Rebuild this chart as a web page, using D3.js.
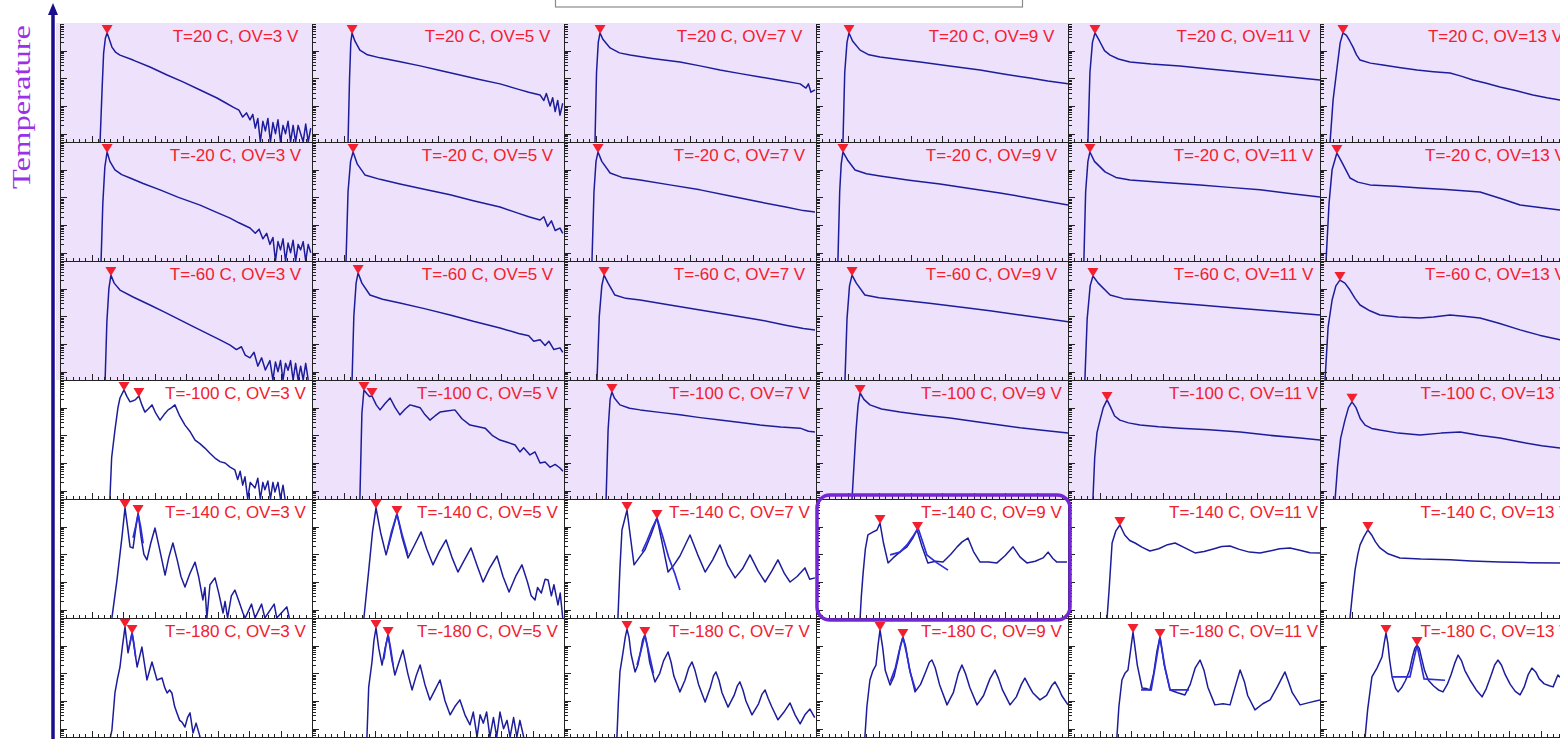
<!DOCTYPE html>
<html><head><meta charset="utf-8">
<script src="https://cdn.jsdelivr.net/npm/d3@7"></script>
<style>html,body{margin:0;padding:0;background:#fff;overflow:hidden}</style>
</head><body>
<svg id="chart" width="1560" height="739"></svg>
<script>
// ---------- DATA (x: position across panel range 0-100, y: log10 counts per bin) ----------
const temperatures = [20, -20, -60, -100, -140, -180];
const overVoltages = [3, 5, 7, 9, 11, 13];
const axisTitle = "Temperature";
// panels with shaded (lavender) background, per temperature row
const shadedT20 = [1,1,1,1,1,1];
const shadedTm20 = [1,1,1,1,1,1];
const shadedTm60 = [1,1,1,1,1,1];
const shadedTm100 = [0,1,1,1,1,1];
const shadedTm140 = [0,0,0,0,0,0];
const shadedTm180 = [0,0,0,0,0,0];

const spectraT20 = [
 [[15.9,-0.3],[16.7,1.6],[17.3,2.9],[18,3.45],[18.7,3.64],[19.6,3.4],[20.6,3.13],[22,2.95],[23.8,2.84],[29,2.66],[35.7,2.41],[42.5,2.12],[48.8,1.87],[55.6,1.58],[62.3,1.29],[66,1.1],[68.7,0.96],[71,0.85],[72.5,0.6],[74,0.75],[75.4,0.5],[76.5,0.7],[77.5,0.2],[78.5,0.55],[79.5,-0.3],[80.5,0.45],[81.5,0.1],[82.5,0.55],[83.5,-0.3],[84.5,0.4],[85.5,0],[86.5,0.5],[87.5,-0.3],[88.5,0.3],[89.5,0],[90.5,0.45],[91.5,-0.3],[92.5,0.3],[93.5,-0.3],[94.5,0.3],[95.5,0],[96.5,-0.3],[97.5,0.35],[98.5,-0.3],[99.5,0.2]],
 [[14.3,-0.3],[14.9,2.0],[15.4,3.3],[15.9,3.64],[17,3.35],[19,3.02],[22,2.85],[27,2.74],[35,2.6],[42.9,2.45],[50,2.3],[58.7,2.12],[66,1.97],[74.6,1.8],[82,1.6],[86,1.5],[90.5,1.4],[92,1.2],[93,1.45],[94.5,1.0],[95.5,1.3],[96.5,0.8],[97.5,1.2],[98.4,0.67],[99.5,1.1]],
 [[12.3,-0.3],[12.9,2.2],[13.6,3.3],[14.3,3.64],[15.5,3.4],[18.3,3.1],[22,2.92],[26.2,2.84],[35,2.72],[46,2.59],[54,2.45],[61.9,2.3],[70,2.17],[77.8,2.05],[86,1.92],[93.7,1.8],[96,1.65],[97,1.8],[98,1.5],[99.6,1.58]],
 [[10.7,-0.3],[11.4,2.2],[12.3,3.3],[13.1,3.64],[14.5,3.35],[17.5,3.02],[21,2.85],[25.4,2.77],[33,2.68],[41.3,2.59],[53,2.45],[65.1,2.3],[75,2.15],[84.9,2.01],[92,1.9],[100,1.8]],
 [[7.9,-0.3],[8.7,2.2],[9.7,3.3],[10.7,3.64],[12.5,3.35],[14.5,3.0],[16.7,2.84],[20,2.7],[24.6,2.59],[33,2.52],[44.4,2.45],[56,2.34],[68.3,2.23],[80,2.12],[92,2.01],[100,1.94]],
 [[4,-0.3],[5.2,1.22],[6.8,2.41],[8,3.28],[9.1,3.64],[10.5,3.55],[11.8,3.35],[13.1,3.13],[14.5,2.85],[15.9,2.66],[20,2.55],[25,2.48],[32,2.38],[38.5,2.3],[45,2.24],[51.6,2.19],[56,2.08],[60.7,1.94],[66,1.82],[71.4,1.69],[78,1.55],[84.5,1.4],[90,1.3],[95.2,1.22],[99.5,1.15]]
];
const spectraTm20 = [
 [[16.3,-0.3],[17,1.8],[17.8,3.1],[18.7,3.64],[19.8,3.3],[21.8,2.99],[24.5,2.82],[27.8,2.7],[33,2.5],[39.7,2.27],[47,2.0],[55.6,1.72],[61,1.5],[67.5,1.25],[71,1.08],[75.4,0.89],[77.5,0.7],[79,0.85],[80.5,0.5],[82,0.7],[83.3,0.3],[84.5,0.55],[85.5,-0.3],[86.5,0.4],[87.5,0.1],[88.5,0.5],[89.5,-0.3],[90.5,0.35],[91.5,0],[92.5,0.45],[93.5,-0.3],[94.5,0.3],[95.5,0.1],[96.5,0.4],[97.5,-0.3],[98.5,0.3],[99.5,0]],
 [[13.5,-0.3],[14.3,2.2],[15.3,3.3],[16.3,3.64],[18,3.2],[21,2.81],[27,2.65],[34.9,2.48],[45,2.28],[54.8,2.09],[64,1.88],[74.6,1.65],[82,1.42],[86,1.3],[90.5,1.18],[92,1.3],[93.5,0.95],[95,1.15],[96.5,0.8],[98.4,0.89],[99.5,0.7]],
 [[11.1,-0.3],[11.9,2.2],[12.7,3.3],[13.5,3.64],[15,3.3],[18.3,2.88],[23,2.72],[30.2,2.63],[42,2.45],[54,2.27],[66,2.05],[77.8,1.83],[88,1.65],[95,1.52],[99.6,1.47]],
 [[8.7,-0.3],[9.4,2.2],[10,3.2],[10.7,3.64],[12.5,3.35],[15.5,2.99],[20,2.85],[25.4,2.77],[37,2.62],[49.2,2.48],[61,2.32],[73,2.16],[86,1.95],[100,1.72]],
 [[6.3,-0.3],[7,2.2],[7.9,3.3],[8.7,3.64],[10.5,3.3],[14.7,2.92],[19,2.72],[24.6,2.63],[38,2.54],[52.4,2.45],[64,2.36],[76.2,2.27],[88,2.14],[100,2.01]],
 [[2.4,-0.3],[3.6,1.8],[4.8,3.0],[6.7,3.6],[8.5,3.3],[11.9,2.7],[15,2.55],[19.8,2.45],[30,2.4],[39.7,2.34],[50,2.28],[63.5,2.19],[72,1.95],[79.4,1.72],[88,1.62],[95.2,1.54],[99.5,1.5]]
];
const spectraTm60 = [
 [[17.9,-0.3],[18.6,1.8],[19.4,3.0],[20.2,3.49],[21.5,3.2],[23.8,2.95],[29,2.7],[35.7,2.41],[41.5,2.15],[47.6,1.87],[53.5,1.6],[59.5,1.33],[63.5,1.15],[67.5,0.96],[70,0.8],[72,0.9],[73.5,0.6],[75.4,0.5],[77,0.7],[78.5,0.2],[80,0.5],[81.5,0.06],[83.3,0.4],[84.5,-0.3],[85.5,0.35],[86.5,0],[87.5,0.4],[88.5,-0.3],[89.5,0.3],[90.5,0.05],[91.5,0.4],[92.5,-0.3],[93.5,0.3],[94.5,-0.3],[95.5,0.2],[96.5,-0.3],[97.5,0.3],[98.5,-0.3]],
 [[15.9,-0.3],[16.6,2.0],[17.5,3.2],[18.3,3.57],[19.8,3.2],[23,2.77],[28,2.62],[34.9,2.48],[45,2.27],[54.8,2.05],[64,1.82],[74.6,1.58],[82,1.38],[86,1.3],[88,1.1],[90.5,1.15],[92.5,0.95],[94,1.1],[96,0.8],[98.4,0.86],[99.5,0.7]],
 [[13.1,-0.3],[14,2.0],[15,3.1],[15.9,3.49],[17.5,3.2],[20.2,2.77],[24.5,2.65],[30.2,2.59],[42,2.41],[54,2.23],[66,2.05],[77.8,1.87],[88,1.68],[95,1.56],[99.6,1.51]],
 [[11.5,-0.3],[12.3,1.9],[13.3,3.1],[14.3,3.49],[16,3.2],[19.4,2.77],[25,2.67],[33.3,2.59],[45,2.47],[57.1,2.34],[69,2.2],[81,2.05],[91,1.92],[100,1.8]],
 [[6.7,-0.3],[7.6,1.9],[8.8,3.1],[9.9,3.46],[12,3.2],[16.7,2.77],[22,2.64],[28.6,2.59],[40,2.5],[52.4,2.41],[64,2.32],[76.2,2.23],[88,2.14],[100,2.05]],
 [[2,-0.3],[3.2,1.6],[4.8,2.59],[6.3,3.1],[7.9,3.31],[9.9,3.2],[11.9,2.95],[13.9,2.65],[15.9,2.41],[19.8,2.2],[23.8,2.05],[31,1.98],[39.7,1.94],[45,1.98],[51.6,2.05],[57,2.0],[63.5,1.94],[71,1.75],[79.4,1.51],[87,1.32],[95.2,1.15],[99.5,1.1]]
];
const spectraTm100 = [
 [[19.8,-0.3],[20.5,1.2],[21.8,2.19],[23,3.0],[23.8,3.35],[25.4,3.64],[26.6,3.4],[27.8,3.21],[29,3.25],[29.8,3.28],[31.3,3.42],[32.5,3.1],[33.7,2.84],[35,2.95],[36.5,3.1],[38,2.8],[39.7,2.55],[41.3,2.75],[42.9,2.92],[44.3,3.0],[45.6,3.1],[47.5,2.7],[49.6,2.37],[51.5,2.15],[53.6,1.83],[55.5,1.7],[57.5,1.54],[59.5,1.35],[61.5,1.18],[63.5,1.05],[65.5,1.0],[67.5,0.85],[69.4,0.75],[70.5,0.4],[71.5,0.7],[72.5,0.2],[73.4,0.5],[74.5,-0.3],[75.5,0.3],[77.4,0.1],[78.5,0.45],[79.5,-0.3],[80.5,0.3],[81.3,0.03],[82.5,0.35],[83.5,-0.3],[84.5,0.3],[85.3,-0.05],[86.5,0.3],[87.5,-0.3],[88.5,0.2],[89.3,-0.3]],
 [[19,-0.3],[19.8,2.8],[20.6,3.64],[21.8,3.5],[22.8,3.4],[23.8,3.42],[25.5,3.1],[27,2.92],[29,3.15],[31,3.35],[33,3.0],[34.9,2.74],[37,2.95],[38.9,3.1],[40.9,3.05],[42.9,3.0],[44.8,2.75],[46.8,2.55],[48.8,2.7],[50.8,2.84],[53.5,2.88],[56.7,2.92],[59.5,2.6],[62.7,2.37],[65.5,2.32],[68.7,2.26],[71.5,2.0],[74.6,1.83],[77.5,1.75],[80.6,1.65],[82.5,1.4],[84,1.55],[86.5,1.29],[88.5,1.4],[90.5,1.0],[92.5,1.04],[94.5,0.85],[96.5,0.95],[98.4,0.82],[99.6,0.7]],
 [[16.7,-0.3],[17.5,2.2],[18.3,3.3],[19,3.57],[20,3.35],[22.2,3.1],[26,2.98],[30.2,2.92],[38,2.83],[46,2.74],[54,2.64],[61.9,2.55],[70,2.46],[77.8,2.37],[86,2.3],[93.7,2.26],[97,2.15],[99.6,2.12]],
 [[14.3,-0.3],[15,0.8],[15.9,2.19],[16.7,3.1],[17.5,3.53],[19,3.3],[21.4,3.1],[26,2.95],[33.3,2.84],[43,2.73],[53.2,2.63],[63,2.5],[73,2.37],[81,2.27],[88.9,2.19],[100,2.08]],
 [[9.9,-0.3],[10.6,1.2],[11.5,2.1],[12.7,2.55],[14,3.0],[15.5,3.28],[17,3.0],[18.5,2.7],[20.6,2.55],[24,2.45],[28.6,2.37],[36,2.31],[44.4,2.26],[56,2.2],[68.3,2.12],[80,2.0],[92.1,1.9],[100,1.83]],
 [[6,-0.3],[7,0.9],[8.2,1.9],[9.9,2.55],[11.3,3.0],[12.7,3.21],[14.3,3.0],[16,2.6],[17.9,2.37],[20.5,2.25],[23.8,2.19],[31,2.08],[39.7,2.01],[48,2.08],[55.6,2.12],[63,2.0],[71.4,1.9],[80,1.75],[88,1.62],[95.2,1.54],[99.5,1.5]]
];
const spectraTm140 = [
 [[20.6,-0.3],[22.6,1.07],[24.6,2.63],[25.8,3.68],[26.8,3.0],[27.8,2.27],[29,2.23],[30,2.9],[31,3.49],[32.2,2.6],[33.3,2.0],[34.5,1.8],[36,2.4],[37.7,2.95],[39.5,2.2],[41.7,1.25],[43.2,1.9],[44.8,2.41],[46.5,1.8],[48,1.2],[49.6,0.82],[51.5,1.3],[53.6,1.72],[55,1.2],[56.7,0.35],[57.5,0.8],[58.3,-0.3],[59.5,0.9],[61.5,1.15],[63,0.6],[64.7,-0.12],[65.5,0.3],[66.5,-0.3],[68,0.5],[69.4,0.71],[71,0.3],[72.6,-0.12],[73.5,-0.3],[76,0.2],[77.4,-0.3],[80,0.2],[81.3,-0.3],[85,0.2],[86,-0.3],[90,0.1],[91,-0.3]],
 [[20.6,-0.3],[22.6,1.5],[24,2.8],[25.4,3.68],[27.2,2.8],[29.4,1.98],[31.5,2.7],[33.7,3.46],[35.8,2.6],[38.1,1.87],[40.5,2.3],[43.3,2.81],[45.5,2.2],[48,1.62],[50.5,2.1],[53.2,2.52],[55.5,1.9],[57.9,1.36],[60.5,1.8],[63.1,2.23],[65.5,1.6],[67.9,1.0],[70.5,1.5],[73.4,1.94],[75.8,1.2],[78.2,0.64],[80.8,1.2],[83.3,1.62],[85.5,1.0],[87,0.5],[88.5,0.35],[89.5,0.8],[91,0.6],[92.5,1.1],[93.7,1.07],[95,0.5],[96,0.9],[97.6,0.17],[98.5,0.6],[99.5,-0.3]],
 [[21.4,-0.3],[22.2,1.5],[23,2.88],[25,3.6],[26.4,2.6],[27.8,1.62],[30,1.9],[32.1,2.16],[34.5,2.7],[36.9,3.31],[39,2.4],[41.3,1.36],[43.5,1.6],[46,1.94],[50,2.7],[53,2.0],[56,1.36],[59,1.8],[61.9,2.34],[65,1.6],[67.9,1.15],[71,1.5],[73.8,1.98],[77,1.4],[79.8,1.0],[82.5,1.4],[84.9,1.8],[87.5,1.3],[89.7,1.0],[92.5,1.2],[95.6,1.51],[97.5,1.1],[99.6,1.15]],
 [[17.5,-0.3],[18,0.5],[18.7,1.33],[19.6,2.2],[20.6,2.7],[22.5,2.8],[24.2,2.88],[25.4,3.13],[26.8,2.4],[28.6,1.69],[30.6,1.87],[33.5,2.1],[36.1,2.27],[38.5,2.6],[40.1,2.88],[42,2.3],[44.4,1.69],[47.5,1.75],[50.4,1.72],[53.5,2.0],[56,2.27],[58,2.45],[60.3,2.59],[62.5,2.1],[65.1,1.72],[68.5,1.72],[71.8,1.69],[75,1.95],[78.2,2.27],[81,1.9],[83.7,1.69],[87,1.75],[90.1,1.87],[92.1,2.08],[94,1.85],[95.6,1.72],[99.6,1.72]],
 [[15.5,-0.3],[16.3,0.7],[17.5,2.41],[19,2.85],[20.6,3.06],[22.5,2.7],[24.5,2.5],[26.6,2.41],[29.5,2.25],[32.5,2.12],[36,2.2],[39.5,2.35],[42.5,2.41],[46,2.25],[50.4,2.05],[54,2.1],[58,2.2],[61,2.28],[64.3,2.3],[68,2.18],[72,2.08],[76.2,2.05],[80,2.12],[84,2.2],[88.1,2.23],[92,2.15],[96,2.06],[100,2.05]],
 [[11.9,-0.3],[12.9,0.6],[13.9,1.43],[15,2.0],[15.9,2.34],[17.5,2.65],[19,2.88],[20.5,2.7],[22,2.45],[23.8,2.23],[27,2.02],[31.7,1.87],[40,1.83],[51.6,1.8],[60,1.76],[71.4,1.72],[83,1.7],[95.2,1.69],[99.5,1.68]]
];
const spectraTm180 = [
 [[20,-0.3],[20.6,-0.05],[21.8,1.29],[22.8,1.8],[23.8,2.23],[24.8,3.0],[25.8,3.68],[27,2.74],[28.6,3.46],[30.6,2.23],[32.5,2.95],[34.5,1.76],[36.5,2.41],[38.5,1.76],[40.5,1.83],[41.5,1.5],[42.5,1.29],[43.5,1.4],[44.4,1.29],[45.5,0.8],[46.4,0.57],[47.5,0.3],[48.4,0.24],[49.6,0.06],[50.6,0.4],[51.6,0.57],[52.8,-0.16],[54,0.2],[55.6,-0.3]],
 [[21.8,-0.3],[22.5,1.5],[23.8,2.41],[24.6,3.2],[25.4,3.64],[26.5,2.9],[27.8,2.3],[29,2.9],[30.2,3.39],[31.5,2.6],[32.9,1.94],[34.5,2.4],[36.1,2.84],[38,2.0],[39.7,1.4],[41.3,1.9],[42.9,2.3],[44.8,1.6],[46.8,1.04],[48.8,1.4],[50.8,1.76],[52.8,1.0],[54.8,0.5],[56.7,0.8],[58.7,1.04],[60.7,0.5],[62.7,0.14],[64,0.6],[65.5,-0.3],[66.7,0.5],[68,0.2],[69.3,0.6],[70.6,-0.3],[72,0.4],[73.3,-0.3],[74.6,0.6],[76,0],[77.4,0.3],[78.6,-0.3],[80,0.4],[81.3,-0.3],[82.5,0.3],[84,-0.3]],
 [[21,-0.3],[21.6,1.0],[22.2,2.05],[23.5,2.8],[24.3,3.3],[25,3.6],[25.8,3.3],[26.6,2.7],[28.2,2.05],[29.3,2.3],[30.2,2.7],[31.2,3.2],[32.1,3.39],[33,3.0],[34,2.4],[36.1,1.69],[38,2.0],[39.5,2.45],[41.3,2.77],[42.5,2.4],[43.6,1.9],[46,1.33],[48,1.75],[49.5,2.2],[50.8,2.41],[52,2.1],[53.4,1.6],[56,0.96],[58.1,1.5],[59.3,1.9],[60.3,2.05],[61.5,1.75],[62.7,1.3],[65.1,0.78],[67.5,1.2],[68.8,1.55],[69.8,1.69],[71,1.4],[72.2,1.0],[74.6,0.5],[77.2,0.9],[78.6,1.25],[79.8,1.4],[81,1.1],[82.4,0.8],[84.9,0.32],[87.3,0.6],[89.7,0.93],[91.7,0.5],[93.7,0.17],[95.6,0.5],[97.6,0.71],[99.5,0.4]],
 [[19.4,-0.3],[20.2,0.8],[21.4,1.76],[22.6,2.1],[23.8,2.3],[24.6,3.0],[25.4,3.57],[26.5,2.9],[27.5,2.1],[29.4,1.58],[31,1.9],[32.5,2.5],[33.5,3.0],[34.5,3.31],[35.5,3.0],[37,2.2],[39.3,1.33],[41.5,1.6],[43.5,2.05],[45,2.4],[46,2.48],[47.3,2.2],[49,1.6],[52,0.86],[54.5,1.3],[56.5,2.0],[57.9,2.3],[59.3,2.0],[61,1.5],[63.9,0.86],[66.5,1.2],[69,1.8],[71,2.12],[72.5,1.8],[74,1.4],[77,0.86],[79.5,1.15],[81.5,1.6],[82.9,1.83],[84.5,1.55],[86,1.3],[88.9,1.04],[91.5,1.2],[93.5,1.55],[94.8,1.69],[96.3,1.45],[97.5,1.2],[100,0.86]],
 [[19.4,-0.3],[20.2,0.8],[21.4,1.76],[22.6,2.0],[23.8,2.12],[24.8,2.8],[25.8,3.49],[27.5,2.3],[29.4,1.47],[31,1.45],[32.5,1.4],[34,2.0],[35.3,2.8],[36.5,3.31],[38.2,2.3],[40.5,1.4],[43.5,1.3],[46.4,1.22],[48.5,1.6],[50.5,2.2],[52.4,2.48],[54,2.1],[55.5,1.5],[58.3,0.86],[61.5,0.9],[64.3,0.86],[66.3,1.5],[68.3,2.12],[70,1.7],[71.3,1.2],[74.2,0.68],[77.3,0.9],[80.2,1.04],[83,1.5],[86.1,2.05],[87.5,1.7],[89,1.3],[92.1,0.86],[96,0.95],[100,1.04]],
 [[17.9,-0.3],[18.9,0.68],[20.6,1.87],[22.6,2.19],[24.6,2.59],[25.5,3.1],[26.2,3.46],[26.9,3.1],[27.6,2.5],[28.6,1.87],[30,1.45],[31,1.33],[32.5,1.5],[34,1.75],[35.5,2.1],[36.7,2.6],[37.6,2.9],[38.5,3.02],[39.4,2.9],[40.3,2.55],[41.5,2.1],[43,1.75],[45,1.55],[47,1.4],[48.8,1.33],[50.5,1.6],[52,1.95],[53.4,2.35],[54.8,2.66],[56.2,2.45],[57.5,2.1],[59.5,1.76],[62,1.4],[64.3,1.15],[66,1.45],[67.8,1.9],[69.3,2.3],[70.6,2.48],[72,2.3],[73.5,1.95],[75.5,1.6],[77.5,1.35],[79.4,1.22],[81,1.5],[82.6,1.95],[84.1,2.19],[85.6,2.05],[87,1.8],[89,1.62],[91,1.55],[92.5,1.51],[94.4,1.94],[96,1.8],[97.5,1.65],[99.5,1.8]]
];

const peaksT20 = [[[18.7,3.64]],[[15.9,3.64]],[[14.3,3.64]],[[13.1,3.64]],[[10.7,3.64]],[[9.1,3.64]]];
const peaksTm20 = [[[18.7,3.64]],[[16.3,3.64]],[[13.5,3.64]],[[10.7,3.64]],[[8.7,3.64]],[[6.7,3.6]]];
const peaksTm60 = [[[20.2,3.49]],[[18.3,3.57]],[[15.9,3.49]],[[14.3,3.49]],[[9.9,3.46]],[[7.9,3.31]]];
const peaksTm100 = [[[25.4,3.64],[31.3,3.42]],[[20.6,3.64],[23.8,3.42]],[[19,3.57]],[[17.5,3.53]],[[15.5,3.28]],[[12.7,3.21]]];
const peaksTm140 = [[[25.8,3.68],[31,3.49]],[[25.4,3.68],[33.7,3.46]],[[25,3.6],[36.9,3.31]],[[25.4,3.13],[40.3,2.88]],[[20.6,3.06]],[[19,2.88]]];
const peaksTm180 = [[[25.8,3.68],[28.6,3.46]],[[25.4,3.64],[30.2,3.39]],[[25,3.6],[32.1,3.39]],[[25.4,3.57],[34.5,3.31]],[[25.8,3.49],[36.5,3.31]],[[26.2,3.46],[38.5,3.02]]];

// fitted single-peak curves drawn over the second peak
const fitsTm140 = [
 [[29,2.6],[30,3.0],[31,3.45],[32,3.0],[33,2.4]],
 [[30,2.2],[31.5,2.8],[33.7,3.46],[35.8,2.7],[38,2.0]],
 [[31,2.1],[33,2.5],[35,2.95],[36.9,3.31],[39,2.7],[41.5,1.9],[44,1.3],[46,0.71]],
 [[29.4,1.98],[33.3,2.08],[36.1,2.34],[38.5,2.65],[40.5,2.95],[42.5,2.4],[44,1.98],[48,1.69],[52.4,1.43]],
 [], []
];
const fitsTm180 = [
 [[27.3,2.9],[28,3.2],[28.6,3.46],[29.3,3.1],[30,2.6]],
 [[28.5,2.5],[29.3,3.0],[30.2,3.39],[31.2,2.9],[32.2,2.3]],
 [[29,2.3],[30.5,2.8],[32.1,3.39],[33.8,2.7],[35.5,2.0]],
 [[29.5,1.7],[31.5,2.2],[33,2.8],[34.5,3.31],[36,2.7],[37.5,2.0],[39.5,1.4]],
 [[29,1.4],[33,1.4],[34.5,2.2],[36.5,3.31],[38.5,2.2],[40.5,1.4],[48,1.4]],
 [[28.6,1.87],[35.7,1.87],[38.5,3.02],[41.3,1.8],[49.6,1.75]]
];

// ---------- DRAWING ----------
const spectra = [spectraT20, spectraTm20, spectraTm60, spectraTm100, spectraTm140, spectraTm180];
const peaks = [peaksT20, peaksTm20, peaksTm60, peaksTm100, peaksTm140, peaksTm180];
const fits = [[],[],[],[], fitsTm140, fitsTm180];
const shaded = [shadedT20, shadedTm20, shadedTm60, shadedTm100, shadedTm140, shadedTm180];

const svg = d3.select("#chart");
const gridLeft = 60, gridTop = 23, cellW = 252, cellH = 119;
const lineColor = "#1d1d9b", fitColor = "#2e2ed8", red = "#f2202e";

const x = d3.scaleLinear().domain([0, 100]).range([0, cellW]);
const y = d3.scaleLog().domain([0.5, 10000]).range([cellH, 0]);
const yv = v => y(Math.max(0.5, Math.pow(10, v)));
const line = d3.line().x(d => x(d[0])).y(d => yv(d[1]));

const majorY = [1, 10, 100, 1000];
const minorY = [];
[0.1, 1, 10, 100, 1000].forEach(b => { for (let k = 2; k <= 9; k++) { const v = b * k; if (v >= 0.5 && v <= 10000) minorY.push(v); } });
const majorX = d3.range(0, 100.01, 12.5);
const minorX = d3.range(0, 100.01, 2.5);

const defs = svg.append("defs");
defs.append("clipPath").attr("id", "cellclip").append("rect").attr("x", 0).attr("y", 0).attr("width", cellW).attr("height", cellH);

// top box
svg.append("rect").attr("x", 555.5).attr("y", -3).attr("width", 467).attr("height", 10)
  .attr("fill", "#fff").attr("stroke", "#8a8a8a").attr("stroke-width", 1.2);

// backgrounds
temperatures.forEach((t, r) => overVoltages.forEach((ov, c) => {
  if (!shaded[r][c]) return;
  const left = gridLeft + c * cellW, top = gridTop + r * cellH;
  const ex = c === 0 ? 4 : 0;
  svg.append("rect").attr("x", left - ex).attr("y", top).attr("width", cellW + ex).attr("height", cellH).attr("fill", "#ede1fb");
}));

// panels
temperatures.forEach((t, r) => overVoltages.forEach((ov, c) => {
  const left = gridLeft + c * cellW, top = gridTop + r * cellH;
  const g = svg.append("g").attr("transform", `translate(${left},${top})`);
  const plot = g.append("g").attr("clip-path", "url(#cellclip)");
  plot.append("path").datum(spectra[r][c]).attr("d", line)
    .attr("fill", "none").attr("stroke", lineColor).attr("stroke-width", 1.5).attr("stroke-linejoin", "round");
  const f = fits[r][c];
  if (f && f.length) plot.append("path").datum(f).attr("d", line)
    .attr("fill", "none").attr("stroke", fitColor).attr("stroke-width", 1.7);

  // axes
  g.append("g").call(d3.axisRight(y).tickValues(majorY).tickSize(7).tickSizeOuter(0).tickFormat(""));
  const ym = g.append("g").call(d3.axisRight(y).tickValues(minorY).tickSize(3.5).tickSizeOuter(0).tickFormat(""));
  ym.select(".domain").remove();
  g.append("g").attr("transform", `translate(0,${cellH})`).call(d3.axisTop(x).tickValues(majorX).tickSize(6).tickSizeOuter(0).tickFormat(""));
  const xm = g.append("g").attr("transform", `translate(0,${cellH})`).call(d3.axisTop(x).tickValues(minorX).tickSize(3).tickSizeOuter(0).tickFormat(""));
  xm.select(".domain").remove();
  g.selectAll(".domain, .tick line").attr("stroke", "#222").attr("stroke-width", 1).attr("shape-rendering", "crispEdges");

  // peak markers
  peaks[r][c].forEach(p => {
    const px = x(p[0]), py = yv(p[1]);
    g.append("path").attr("d", `M${px - 5.5},${py - 8}L${px + 5.5},${py - 8}L${px},${py + 1}Z`).attr("fill", red);
  });

  // label
  g.append("text").attr("x", 175.5).attr("y", 19).attr("text-anchor", "middle")
    .attr("font-family", "'Liberation Sans', Arial, Helvetica, sans-serif").attr("font-size", 17)
    .attr("fill", red).text(`T=${t} C, OV=${ov} V`);
}));

// highlight frame around T=-140, OV=9
svg.append("rect").attr("x", gridLeft + 3 * cellW + 1).attr("y", gridTop + 4 * cellH - 4)
  .attr("width", cellW + 1).attr("height", cellH + 6).attr("rx", 13)
  .attr("fill", "none").attr("stroke", "#7326d4").attr("stroke-width", 3.5);

// vertical temperature arrow
svg.append("line").attr("x1", 53).attr("x2", 53).attr("y1", 739).attr("y2", 12)
  .attr("stroke", "#1a0e8c").attr("stroke-width", 3.5);
svg.append("path").attr("d", "M53,3L48,15L58,15Z").attr("fill", "#1a0e8c");

svg.append("text").attr("transform", "translate(30,107) rotate(-90)")
  .attr("text-anchor", "middle").attr("font-family", "'Liberation Serif', 'Times New Roman', serif")
  .attr("font-size", 25).attr("textLength", 164).attr("lengthAdjust", "spacingAndGlyphs")
  .attr("fill", "#9a30e8").text(axisTitle);
</script>
</body></html>
